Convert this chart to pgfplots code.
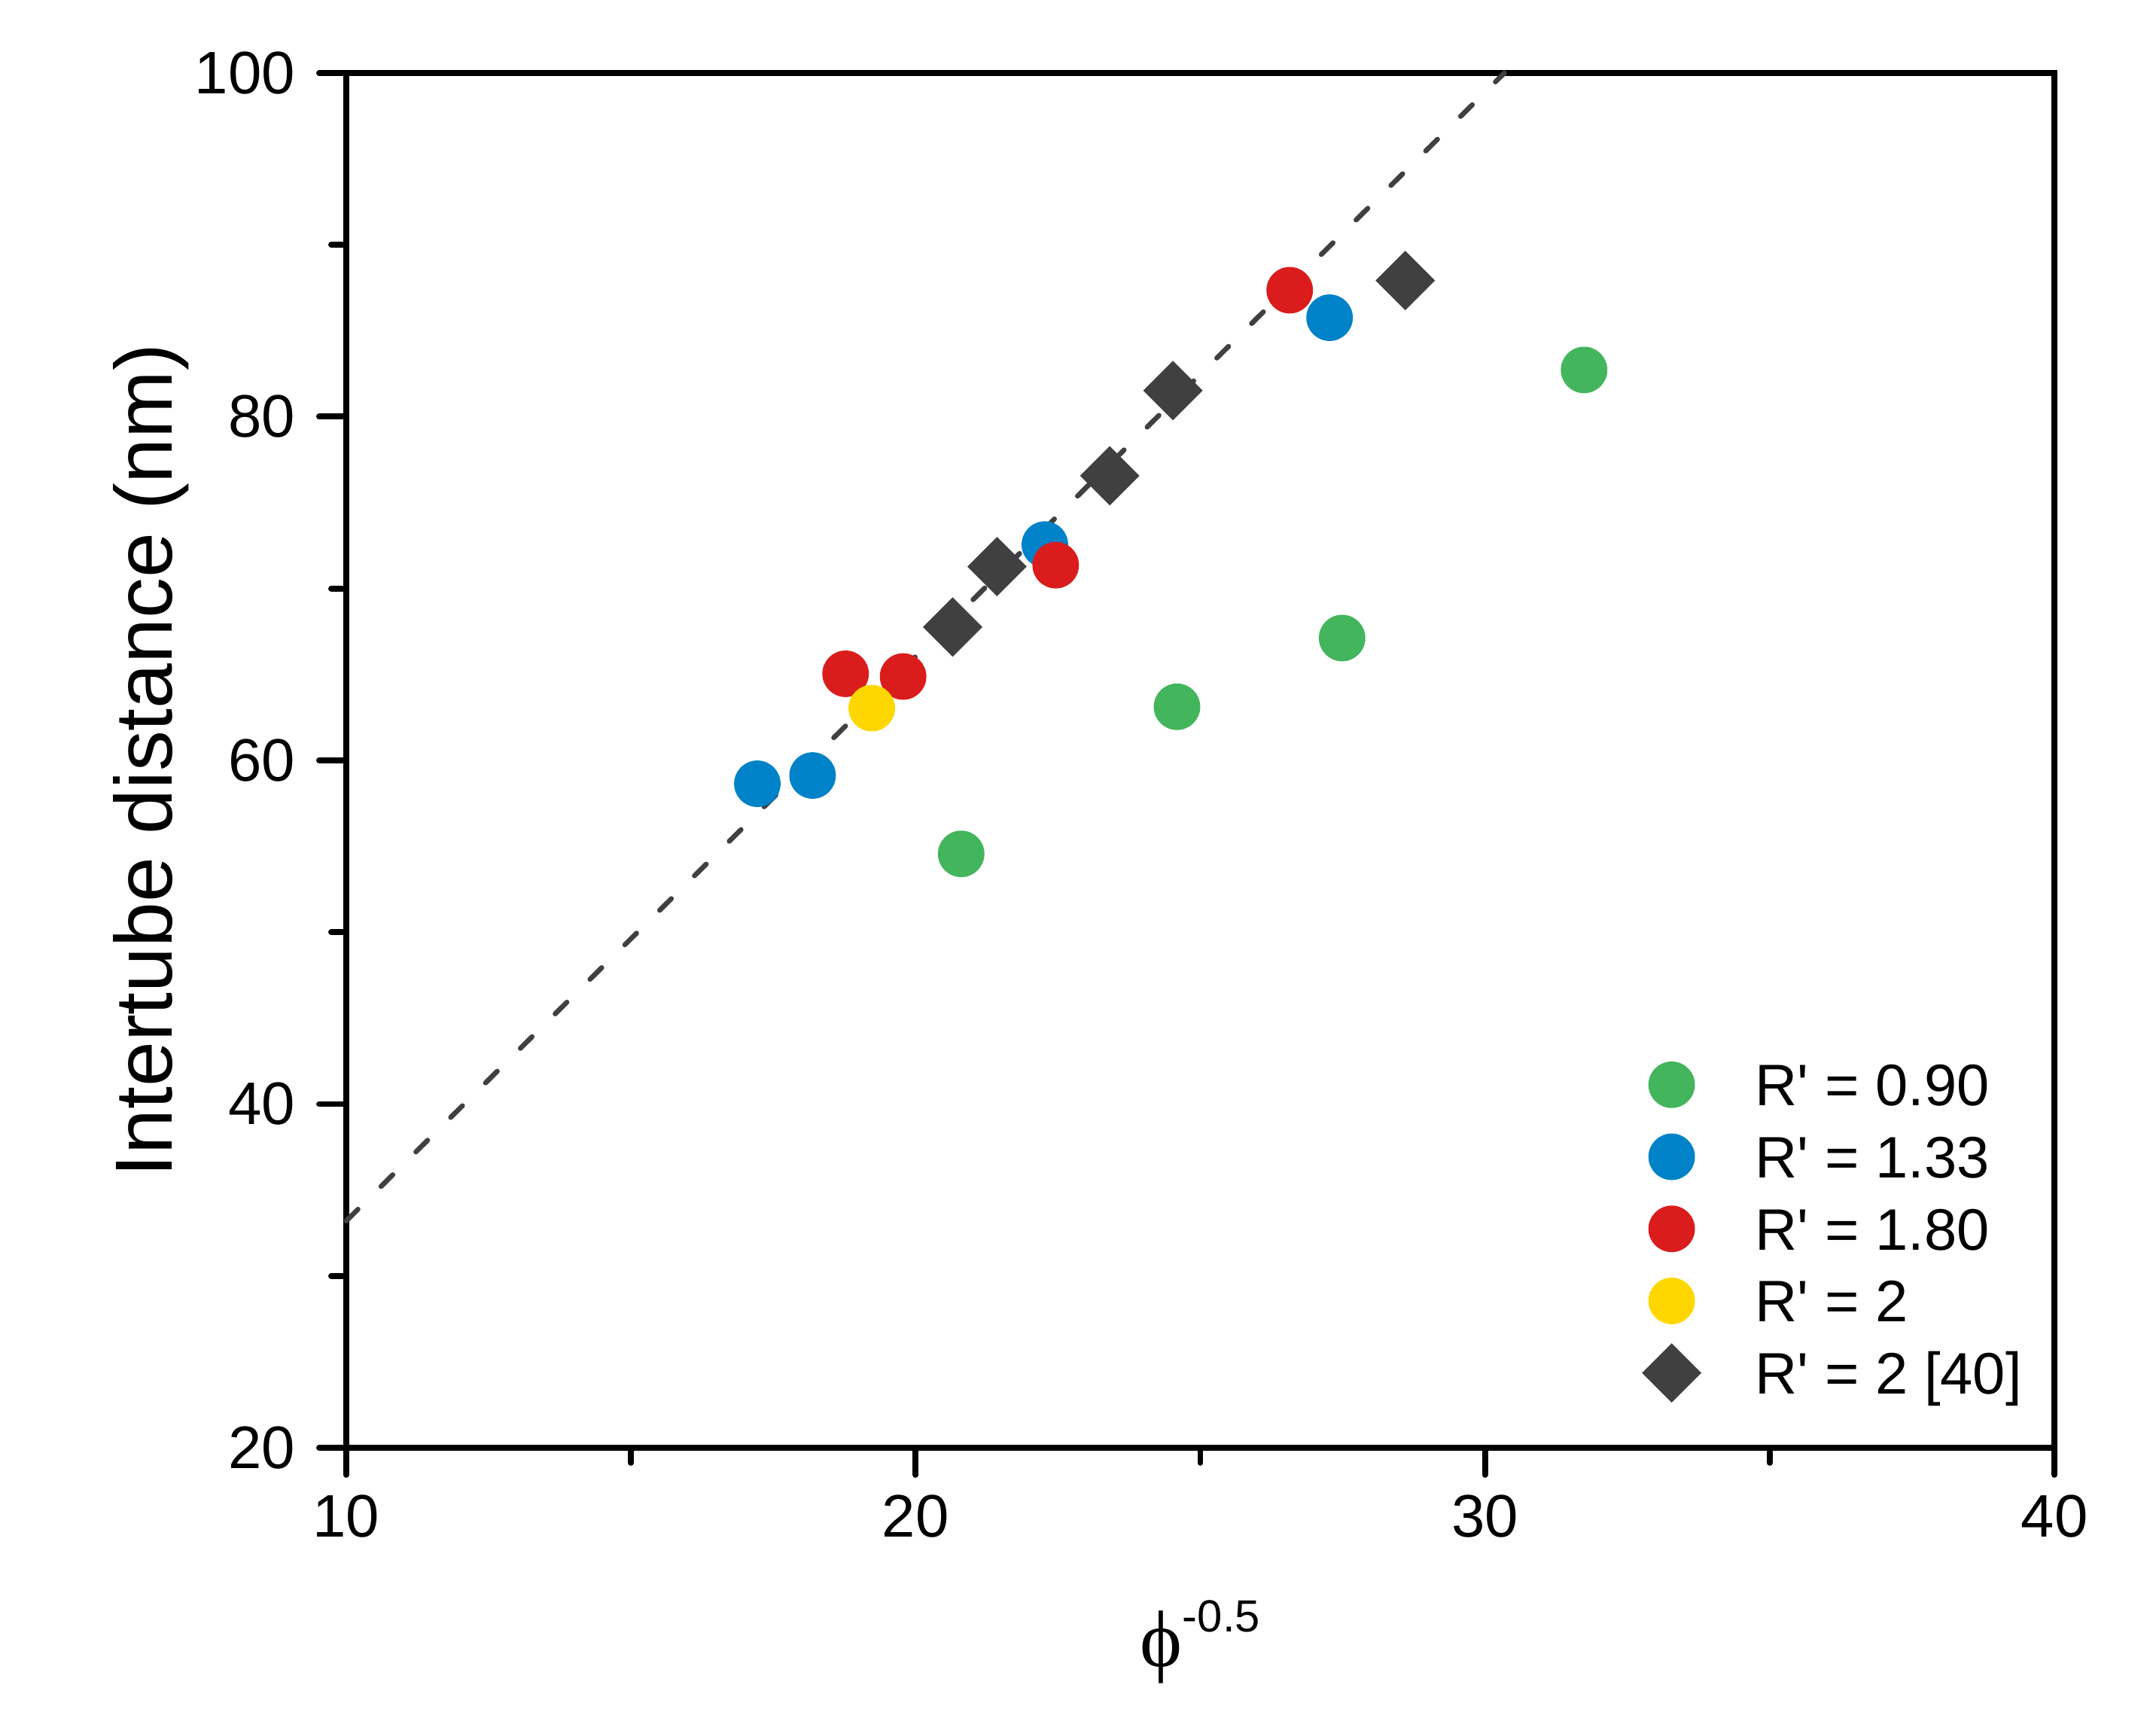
\documentclass[border=0pt]{standalone}
\usepackage{fontspec}
\setmainfont{Liberation Sans}
\newfontfamily\serifphi{Liberation Serif}
\usepackage{pgfplots}
\pgfplotsset{compat=1.18}
\definecolor{cGreen}{RGB}{67,181,93}
\definecolor{cBlue}{RGB}{0,130,200}
\definecolor{cRed}{RGB}{218,28,28}
\definecolor{cYellow}{RGB}{255,215,0}
\definecolor{cGray}{RGB}{64,64,64}
\newcommand{\Rp}{R\textquotesingle}

\begin{document}
\begin{tikzpicture}
\begin{axis}[
    scale only axis, width=12cm, height=9.657cm,
    xmin=10, xmax=40, ymin=20, ymax=100,
    xtick={10,20,30,40}, ytick={20,40,60,80,100},
    minor x tick num=1, minor y tick num=1,
    tick pos=left, tick align=outside,
    major tick length=5.4pt, minor tick length=3pt,
    axis line style={line width=1.2pt},
    every tick/.style={black, line width=1.2pt, line cap=round},
    /pgf/number format/assume math mode=true,
    tick label style={font=\fontsize{12}{14}\selectfont},
    yticklabel style={xshift=-1.3pt},
    xticklabel style={yshift=-0.5pt},
    xlabel={{\fontsize{16}{18}\selectfont\serifphi ϕ}\raisebox{1.3ex}{\fontsize{9}{10}\selectfont -0.5}},
    ylabel={Intertube distance (nm)},
    xlabel style={at={(axis description cs:0.5,0)}, anchor=center, yshift=-38.8pt},
    ylabel style={at={(axis description cs:0,0.5)}, anchor=center, yshift=39pt, font=\fontsize{16.2}{18}\selectfont},
    clip=false,
    legend cell align=left,
    legend image code/.code={\path[draw=none, fill=none] (-6pt,-6.3pt) rectangle (6pt,6.3pt); \draw[#1] plot coordinates {(0pt,0pt)};},
    legend style={at={(rel axis cs:0.749,0.295)}, anchor=north west, draw=none, fill=none,
        font=\fontsize{11.7}{14}\selectfont, row sep=1.8pt,
        nodes={inner sep=0pt, text height=8.4pt, text depth=0pt},
        column sep=0pt},
]
\addplot[only marks, mark=*, mark size=4.45pt, color=cGreen, mark options={draw=none, fill=cGreen}]
  coordinates {(20.80,54.56) (24.59,63.12) (27.49,67.12) (31.74,82.72)};
\addlegendentry{\hspace{10.7pt}\Rp{} = 0.90}
\addplot[only marks, mark=*, mark size=4.45pt, color=cBlue, mark options={draw=none, fill=cBlue}]
  coordinates {(17.22,58.64) (18.19,59.12) (22.27,72.56) (27.27,85.76)};
\addlegendentry{\hspace{10.7pt}\Rp{} = 1.33}
\addplot[only marks, mark=*, mark size=4.45pt, color=cRed, mark options={draw=none, fill=cRed}]
  coordinates {(18.77,65.04) (19.78,64.88) (22.46,71.36) (26.57,87.36)};
\addlegendentry{\hspace{10.7pt}\Rp{} = 1.80}
\addplot[only marks, mark=*, mark size=4.45pt, color=cYellow, mark options={draw=none, fill=cYellow}]
  coordinates {(19.23,63.04)};
\addlegendentry{\hspace{10.7pt}\Rp{} = 2}
\addplot[only marks, mark=square*, mark size=3.9pt, color=cGray,
    mark options={draw=cGray, fill=cGray, rotate=45, line width=0.6pt, rounded corners=0.8pt}]
  coordinates {(20.65,67.76) (21.43,71.28) (23.41,76.56) (24.52,81.52) (28.60,87.92)};
\addlegendentry{\hspace{10.7pt}\Rp{} = 2 [40]}
\addplot[no marks, color=cGray, line width=1pt, line cap=round, dash pattern=on 3.3pt off 6.5pt, forget plot]
  coordinates {(10,33.2) (30.34,100)};
\path (rel axis cs:-0.2027,-0.190) rectangle (rel axis cs:1.0595,1.0531);
\end{axis}
\end{tikzpicture}
\end{document}
